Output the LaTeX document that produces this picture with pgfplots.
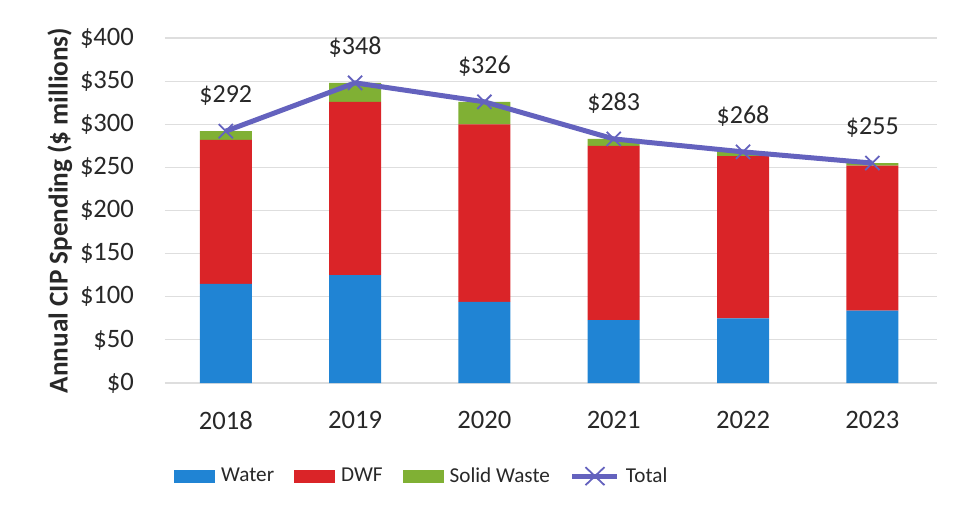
\documentclass[border=0pt]{standalone}
\usepackage{fontspec}
\setmainfont{Carlito}
\usepackage{pgfplots}
\pgfplotsset{compat=1.18}
\definecolor{cWater}{RGB}{32,132,212}
\definecolor{cDWF}{RGB}{218,36,40}
\definecolor{cSW}{RGB}{128,176,52}
\definecolor{cTot}{RGB}{100,98,190}
\definecolor{cGrid}{RGB}{222,222,222}
\definecolor{cText}{RGB}{40,40,40}
\begin{document}
\begin{tikzpicture}[font=\fontsize{13.3}{15}\selectfont, text=cText]
\pgfplotsset{
  base/.style={
    width=386pt, height=172.5pt, scale only axis,
    xmin=-0.47, xmax=5.5, ymin=0, ymax=400,
    /pgf/number format/assume math mode=true,
  },
}
\begin{axis}[base,
    ybar stacked, bar width=26pt,
    axis line style={draw=none},
    ytick={0,50,...,400},
    yticklabel={\$\pgfmathprintnumber{\tick}},
    xtick={0,...,5},
    xticklabels={2018,2019,2020,2021,2022,2023},
    ymajorgrids, grid style={cGrid, line width=0.6pt},
    major tick length=0pt,
    yticklabel style={xshift=-12pt},
    xticklabel style={yshift=-10.5pt},
    ylabel={\textbf{Annual CIP Spending (\$ millions)}},
    ylabel style={font=\fontsize{13.6}{16}\selectfont, yshift=-3pt},
    legend columns=4,
    legend style={at={(0.334,-0.27)}, anchor=center, draw=none, fill=none,
      font=\fontsize{10.6}{12}\selectfont,
      /tikz/every even column/.style={column sep=8pt},
      /tikz/every odd column/.style={column sep=1pt}},
    legend cell align=left,
    every axis plot/.append style={draw=none},
    legend image code/.code={\fill[#1] (0pt,-3.25pt) rectangle (20.5pt,3.25pt);},
  ]
  \addplot[fill=cWater] coordinates {(0,115) (1,125) (2,94) (3,73) (4,75) (5,84)};
  \addlegendentry{Water}
  \addplot[fill=cDWF] coordinates {(0,167) (1,201) (2,206) (3,202) (4,188) (5,168)};
  \addlegendentry{DWF}
  \addplot[fill=cSW] coordinates {(0,10) (1,22) (2,26) (3,8) (4,5) (5,3)};
  \addlegendentry{Solid Waste}
  \addlegendimage{legend image code/.code={
      \draw[cTot, line width=2.5pt] (0pt,0pt) -- (22.5pt,0pt);
      \draw[cTot, line width=0.9pt] (6.5pt,-4.5pt) -- (16pt,4.5pt) (6.5pt,4.5pt) -- (16pt,-4.5pt);}}
  \addlegendentry{Total}
\end{axis}
\begin{axis}[base, axis lines=none, ticks=none]
  \addplot[cTot, line width=2.5pt, mark=x, mark size=5pt,
      mark options={line width=0.9pt},
      point meta=y,
      nodes near coords={\$\pgfmathprintnumber{\pgfplotspointmeta}},
      every node near coord/.append style={text=cText, yshift=9pt,
        font=\fontsize{13}{15}\selectfont}]
    coordinates {(0,292) (1,348) (2,326) (3,283) (4,268) (5,255)};
\end{axis}
\path[use as bounding box] (-82.5pt,-63.5pt) rectangle (395.5pt,191.5pt);
\end{tikzpicture}
\end{document}
